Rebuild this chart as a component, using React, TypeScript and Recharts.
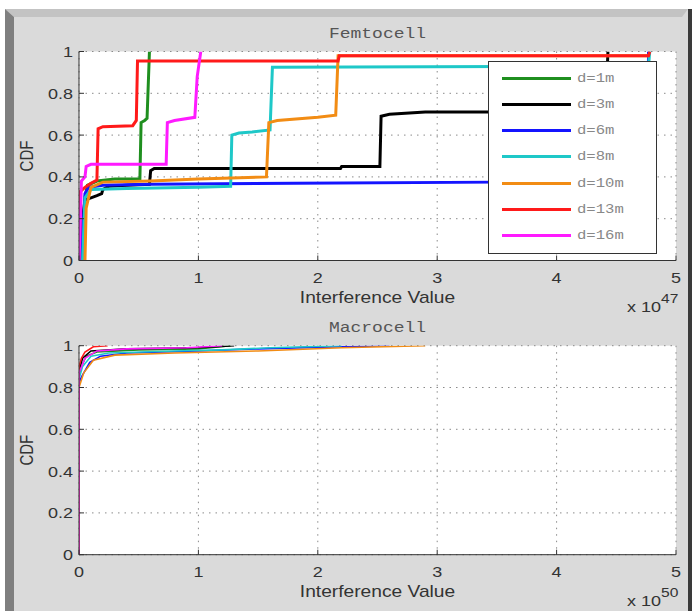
import React from "react";
import { LineChart, Line, XAxis, YAxis, CartesianGrid, Legend } from "recharts";

type Pt = [number, number];

// x values are in units of 1e47 (Femtocell) and 1e50 (Macrocell)
const xTicks = [0, 1, 2, 3, 4, 5];
const yTicks = [0, 0.2, 0.4, 0.6, 0.8, 1];
const seriesNames = ["d=1m", "d=3m", "d=6m", "d=8m", "d=10m", "d=13m", "d=16m"];
const seriesColors = ["#1f8f1f", "#000000", "#1414ff", "#1ec8c8", "#f28c14", "#ff1a1a", "#ff1aff"];

const femto1m: Pt[] = [[0.02, 0], [0.03, 0.08], [0.05, 0.3], [0.07, 0.36], [0.15, 0.38], [0.3, 0.39], [0.51, 0.39], [0.52, 0.66], [0.55, 0.67], [0.57, 0.68], [0.59, 1]];
const femto3m: Pt[] = [[0.02, 0], [0.03, 0.2], [0.05, 0.29], [0.1, 0.3], [0.15, 0.31], [0.19, 0.32], [0.2, 0.34], [0.25, 0.355], [0.4, 0.36], [0.59, 0.365], [0.6, 0.43], [0.63, 0.44], [2.19, 0.44], [2.2, 0.45], [2.52, 0.45], [2.53, 0.69], [2.6, 0.7], [2.9, 0.71], [4.41, 0.71], [4.43, 1]];
const femto6m: Pt[] = [[0.02, 0], [0.03, 0.12], [0.05, 0.32], [0.08, 0.35], [0.2, 0.36], [0.6, 0.365], [1.8, 0.37], [3.5, 0.375], [4.76, 0.375], [4.77, 1]];
const femto8m: Pt[] = [[0.03, 0], [0.05, 0.3], [0.1, 0.34], [0.4, 0.345], [1.0, 0.35], [1.27, 0.355], [1.28, 0.6], [1.34, 0.61], [1.45, 0.615], [1.6, 0.625], [1.62, 0.925], [4.77, 0.93], [4.78, 1]];
const femto10m: Pt[] = [[0.05, 0], [0.06, 0.25], [0.1, 0.35], [0.2, 0.375], [0.6, 0.38], [1.0, 0.39], [1.57, 0.4], [1.59, 0.66], [1.66, 0.67], [2.0, 0.685], [2.15, 0.695], [2.17, 0.98], [4.77, 0.98]];
const femto13m: Pt[] = [[0, 0], [0.01, 0.33], [0.05, 0.35], [0.1, 0.37], [0.15, 0.385], [0.16, 0.63], [0.2, 0.64], [0.45, 0.645], [0.48, 0.67], [0.49, 0.955], [2.17, 0.955], [2.18, 0.98], [4.77, 0.98], [4.78, 1]];
const femto16m: Pt[] = [[0, 0], [0.01, 0.15], [0.02, 0.38], [0.05, 0.4], [0.06, 0.45], [0.1, 0.46], [0.73, 0.46], [0.74, 0.66], [0.8, 0.67], [0.97, 0.685], [0.99, 0.88], [1.02, 1]];

const macro1m: Pt[] = [[0, 0], [0, 0.86], [0.02, 0.9], [0.06, 0.95], [0.15, 0.97], [0.5, 0.98], [1.0, 0.985], [1.27, 1]];
const macro3m: Pt[] = [[0, 0], [0, 0.88], [0.03, 0.94], [0.1, 0.975], [0.4, 0.985], [1.0, 0.99], [1.3, 1]];
const macro6m: Pt[] = [[0, 0], [0, 0.82], [0.02, 0.85], [0.09, 0.92], [0.18, 0.95], [0.4, 0.965], [1.0, 0.975], [1.5, 0.985], [2.2, 0.995], [2.6, 1]];
const macro8m: Pt[] = [[0, 0], [0, 0.84], [0.03, 0.9], [0.1, 0.95], [0.25, 0.965], [0.8, 0.975], [1.2, 0.98], [1.6, 0.99], [2.2, 1]];
const macro10m: Pt[] = [[0, 0], [0, 0.8], [0.04, 0.87], [0.12, 0.93], [0.3, 0.955], [0.8, 0.965], [1.5, 0.975], [2.2, 0.99], [2.9, 1]];
const macro13m: Pt[] = [[0, 0], [0, 0.9], [0.02, 0.94], [0.05, 0.97], [0.12, 0.995], [0.24, 1]];
const macro16m: Pt[] = [[0, 0], [0, 0.87], [0.05, 0.94], [0.15, 0.975], [0.4, 0.985], [0.9, 0.99], [1.2, 1]];

const femtoSeries = [femto1m, femto3m, femto6m, femto8m, femto10m, femto13m, femto16m];
const macroSeries = [macro1m, macro3m, macro6m, macro8m, macro10m, macro13m, macro16m];

const SX = 1.2; // the figure is stretched horizontally
const SANS = "'Liberation Sans', Arial, sans-serif";
const MONO = "'Liberation Mono', 'Courier New', monospace";
const AXIS = "#333";
const PLOT_H = 209;

function Stretch({ x, y, children, anchor = "middle", size = 15, family = SANS, fill = "#333", rotate = 0 }: any) {
  return (
    <g transform={`translate(${x},${y}) scale(${SX},1)${rotate ? ` rotate(${rotate})` : ""}`}>
      <text x={0} y={0} textAnchor={anchor} fontSize={size} fontFamily={family} fill={fill}>
        {children}
      </text>
    </g>
  );
}

const fmtY = (v: number) => (v === 0 || v === 1 ? `${v}` : v.toFixed(1));

const BottomTick = ({ x, y, payload }: any) => (
  <g>
    <line x1={x} y1={y} x2={x} y2={y - 5} stroke={AXIS} />
    <Stretch x={x} y={y + 22.5}>{payload.value}</Stretch>
  </g>
);
const TopTick = ({ x, y }: any) => <line x1={x} y1={y} x2={x} y2={y + 5} stroke={AXIS} />;
const LeftTick = ({ x, y, payload }: any) => (
  <g>
    <line x1={x} y1={y} x2={x + 5} y2={y} stroke={AXIS} />
    <Stretch x={x - 6} y={y + 5.5} anchor="end">{fmtY(payload.value)}</Stretch>
  </g>
);
const RightTick = ({ x, y }: any) => <line x1={x} y1={y} x2={x - 5} y2={y} stroke={AXIS} />;

const LegendBox = () => (
  <div style={{ boxSizing: "border-box", width: 169, height: 193, background: "#fff", border: "1px solid #333", position: "relative" }}>
    {seriesNames.map((name, i) => (
      <div key={name} style={{ position: "absolute", left: 13, top: 8 + i * 26.3, height: 16, display: "flex", alignItems: "center" }}>
        <div style={{ width: 69, height: 3, background: seriesColors[i] }} />
        <span style={{ marginLeft: 6, fontFamily: MONO, fontSize: 13, color: "#888", display: "inline-block", transform: `scaleX(${SX})`, transformOrigin: "left center" }}>
          {name}
        </span>
      </div>
    ))}
  </div>
);

function Panel({ title, exponent, series, top, height, plotTop, lineWidth, legend }: any) {
  const xLabel = ({ viewBox }: any) => (
    <g>
      <Stretch x={viewBox.x + viewBox.width / 2} y={viewBox.y + 42.5} size={16}>Interference Value</Stretch>
      <Stretch x={viewBox.x + viewBox.width - 49} y={viewBox.y + 51.5} anchor="start" size={15}>
        x 10<tspan dy={-9} fontSize={13}>{exponent}</tspan>
      </Stretch>
      <Stretch x={viewBox.x + viewBox.width / 2} y={viewBox.y - PLOT_H - 13.5} family={MONO} fill="#555">{title}</Stretch>
    </g>
  );
  const yLabel = ({ viewBox }: any) => (
    <Stretch x={viewBox.x + viewBox.width - 46} y={viewBox.y + viewBox.height / 2} rotate={-90}>CDF</Stretch>
  );
  return (
    <div style={{ position: "absolute", left: 0, top }}>
      <LineChart width={692} height={height} margin={{ top: plotTop, right: 16, left: 29, bottom: height - plotTop - PLOT_H - 50 }}>
        <CartesianGrid fill="#fff" stroke="#8a8a8a" strokeDasharray="1.5 5" />
        <XAxis dataKey="x" type="number" domain={[0, 5]} ticks={xTicks} interval={0} height={50}
          axisLine={{ stroke: AXIS }} tickLine={false} tickSize={0} tickMargin={0} tick={BottomTick} label={xLabel} allowDataOverflow />
        <XAxis xAxisId="top" orientation="top" type="number" domain={[0, 5]} ticks={xTicks} interval={0} height={0}
          axisLine={{ stroke: AXIS }} tickLine={false} tickSize={0} tickMargin={0} tick={TopTick} />
        <YAxis type="number" domain={[0, 1]} ticks={yTicks} interval={0} width={50}
          axisLine={{ stroke: AXIS }} tickLine={false} tickSize={0} tickMargin={0} tick={LeftTick} label={yLabel} allowDataOverflow />
        <YAxis yAxisId="right" orientation="right" type="number" domain={[0, 1]} ticks={yTicks} interval={0} width={0}
          axisLine={{ stroke: AXIS }} tickLine={false} tickSize={0} tickMargin={0} tick={RightTick} />
        {series.map((pts: Pt[], i: number) => (
          <Line key={seriesNames[i]} name={seriesNames[i]} data={pts.map(([x, y]) => ({ x, y }))} dataKey="y"
            type="linear" stroke={seriesColors[i]} strokeWidth={lineWidth} dot={false} activeDot={false} isAnimationActive={false} />
        ))}
        {legend && (
          <Legend layout="horizontal" align="center" verticalAlign="middle" content={LegendBox}
            wrapperStyle={{ position: "absolute", left: 488, top: 61 - top, width: 169, height: 193 }} />
        )}
      </LineChart>
    </div>
  );
}

export default function App() {
  return (
    <div style={{ position: "absolute", left: 0, top: 0, width: 692, height: 611, background: "#dadada", overflow: "hidden", fontFamily: SANS }}>
      <div style={{ position: "absolute", left: 0, top: 0, width: 692, height: 9, background: "#fff" }} />
      <div style={{ position: "absolute", left: 0, top: 0, width: 5, height: 611, background: "#fff" }} />
      <div style={{ position: "absolute", left: 5, top: 9, width: 683, height: 8, background: "#c3c3c3", clipPath: "polygon(0 0, 100% 0, calc(100% - 6px) 100%, 9px 100%)" }} />
      <div style={{ position: "absolute", left: 5, top: 9, width: 9, height: 602, background: "#7f7f7f", clipPath: "polygon(0 0, 100% 8px, 100% 100%, 0 100%)" }} />
      <div style={{ position: "absolute", left: 688, top: 9, width: 4, height: 602, background: "#3a3a3a" }} />
      <Panel title="Femtocell" exponent="47" series={femtoSeries} top={0} height={316} plotTop={51.5} lineWidth={3} legend />
      <Panel title="Macrocell" exponent="50" series={macroSeries} top={316} height={295} plotTop={29.7} lineWidth={1.6} legend={false} />
    </div>
  );
}
